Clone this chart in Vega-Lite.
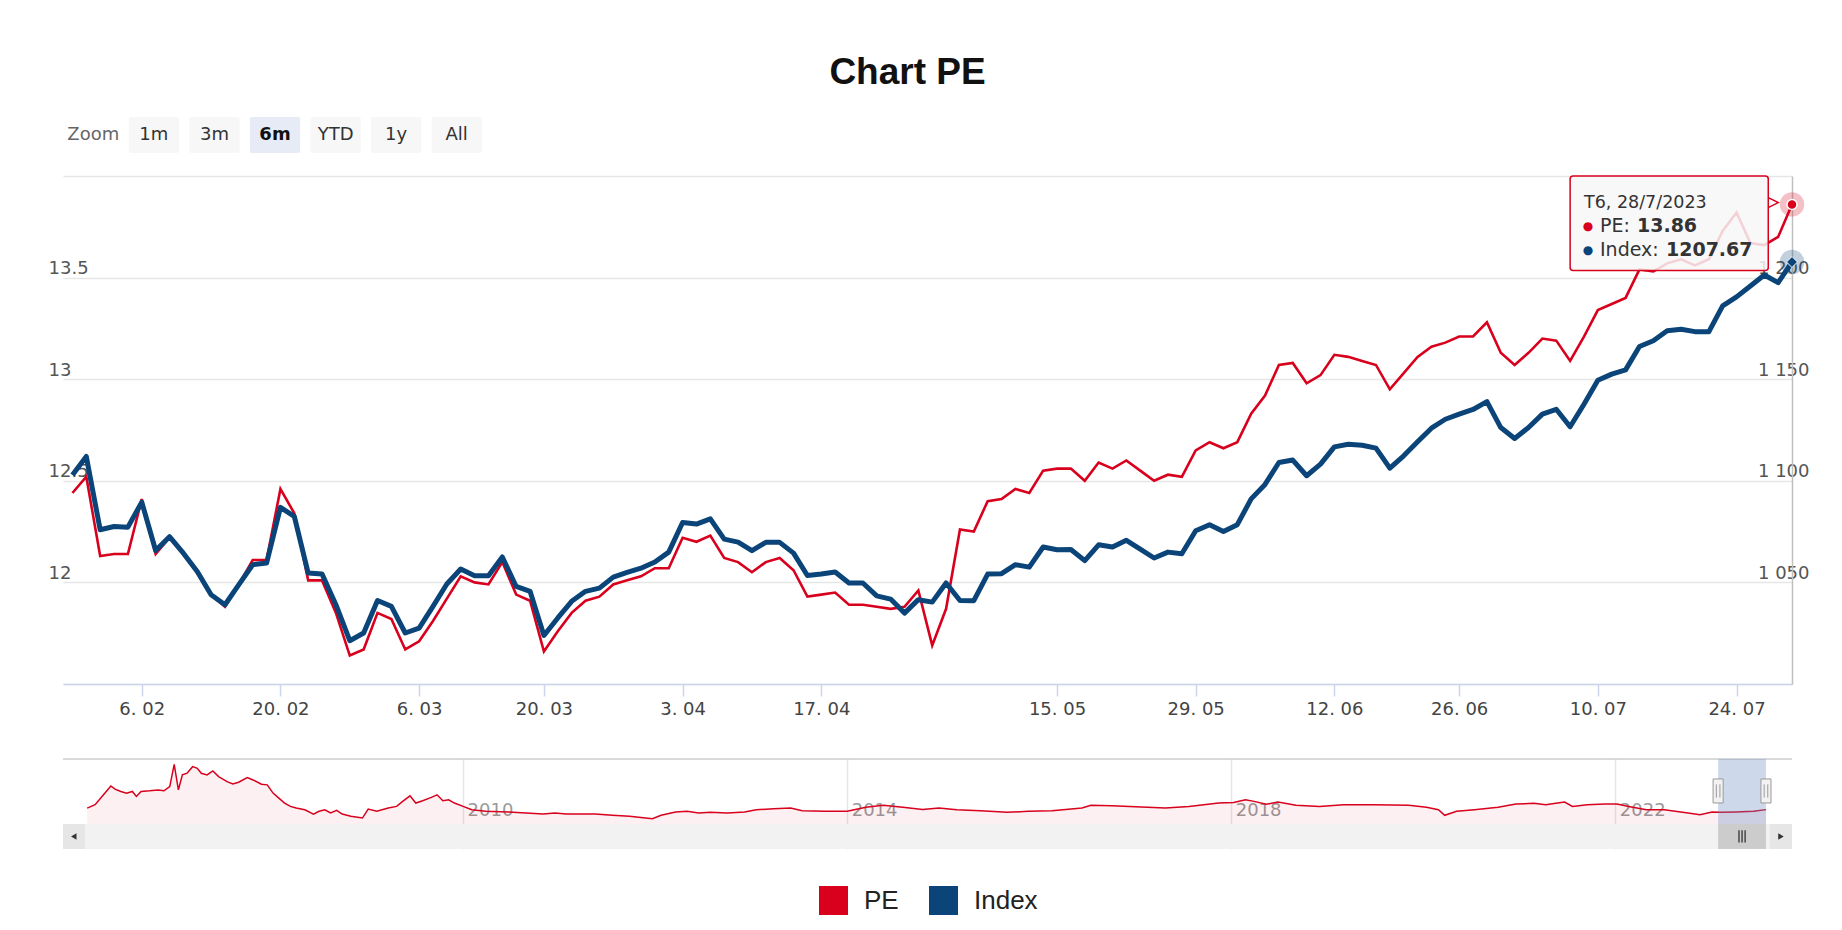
{
  "$schema": "https://vega.github.io/schema/vega-lite/v6.json",
  "padding": {"left": 48, "top": 54, "right": 0, "bottom": 0},
  "autosize": {"type": "pad"},
  "background": "white",
  "title": {"text": "Chart PE", "font": "Liberation Sans", "fontSize": 37, "fontWeight": "bold", "color": "#111111", "anchor": "middle", "baseline": "top", "offset": 25, "dx": -21},
  "config": {"view": {"stroke": null}, "font": "DejaVu Sans", "axis": {"labelFont": "DejaVu Sans"}},
  "spacing": 22,
  "vconcat": [
    {
      "width": 424,
      "height": 36,
      "data": {"values": [{"b": "Zoom"}, {"b": "1m"}, {"b": "3m"}, {"b": "6m"}, {"b": "YTD"}, {"b": "1y"}, {"b": "All"}]},
      "encoding": {"x": {"field": "b", "type": "nominal", "sort": null, "scale": {"domain": ["Zoom", "1m", "3m", "6m", "YTD", "1y", "All"], "paddingInner": 0.17, "paddingOuter": 0.085}, "axis": null}},
      "layer": [
        {"transform": [{"filter": "datum.b !== 'Zoom'"}], "mark": {"type": "rect", "cornerRadius": 2}, "encoding": {"color": {"condition": {"test": "datum.b === '6m'", "value": "#e6ebf5"}, "value": "#f7f7f7"}}},
        {"transform": [{"filter": "datum.b === 'Zoom'"}], "mark": {"type": "text", "fontSize": 18, "color": "#666666"}, "encoding": {"text": {"field": "b"}}},
        {"transform": [{"filter": "datum.b !== 'Zoom' && datum.b !== '6m'"}], "mark": {"type": "text", "fontSize": 18, "color": "#333333"}, "encoding": {"text": {"field": "b"}}},
        {"transform": [{"filter": "datum.b === '6m'"}], "mark": {"type": "text", "fontSize": 18, "color": "#111111", "fontWeight": "bold"}, "encoding": {"text": {"field": "b"}}}
      ]
    },
    {
      "width": 1729,
      "height": 508,
      "data": {"values": [
        {"d": "2023-01-30", "PE": 12.44, "Index": 1102.9},
        {"d": "2023-01-31", "PE": 12.52, "Index": 1112.0},
        {"d": "2023-02-01", "PE": 12.13, "Index": 1075.9},
        {"d": "2023-02-02", "PE": 12.14, "Index": 1077.5},
        {"d": "2023-02-03", "PE": 12.14, "Index": 1077.2},
        {"d": "2023-02-06", "PE": 12.41, "Index": 1089.5},
        {"d": "2023-02-07", "PE": 12.14, "Index": 1065.7},
        {"d": "2023-02-08", "PE": 12.22, "Index": 1072.5},
        {"d": "2023-02-09", "PE": 12.14, "Index": 1064.4},
        {"d": "2023-02-10", "PE": 12.05, "Index": 1055.4},
        {"d": "2023-02-13", "PE": 11.94, "Index": 1043.9},
        {"d": "2023-02-14", "PE": 11.88, "Index": 1039.0},
        {"d": "2023-02-15", "PE": 11.99, "Index": 1048.9},
        {"d": "2023-02-16", "PE": 12.11, "Index": 1058.7},
        {"d": "2023-02-17", "PE": 12.11, "Index": 1059.5},
        {"d": "2023-02-20", "PE": 12.46, "Index": 1086.9},
        {"d": "2023-02-21", "PE": 12.34, "Index": 1082.5},
        {"d": "2023-02-22", "PE": 12.01, "Index": 1054.6},
        {"d": "2023-02-23", "PE": 12.01, "Index": 1054.1},
        {"d": "2023-02-24", "PE": 11.85, "Index": 1039.0},
        {"d": "2023-02-27", "PE": 11.64, "Index": 1021.3},
        {"d": "2023-02-28", "PE": 11.67, "Index": 1025.1},
        {"d": "2023-03-01", "PE": 11.85, "Index": 1041.1},
        {"d": "2023-03-02", "PE": 11.82, "Index": 1038.2},
        {"d": "2023-03-03", "PE": 11.67, "Index": 1025.1},
        {"d": "2023-03-06", "PE": 11.71, "Index": 1027.5},
        {"d": "2023-03-07", "PE": 11.81, "Index": 1038.2},
        {"d": "2023-03-08", "PE": 11.92, "Index": 1049.2},
        {"d": "2023-03-09", "PE": 12.03, "Index": 1056.6},
        {"d": "2023-03-13", "PE": 12.0, "Index": 1053.3},
        {"d": "2023-03-14", "PE": 11.99, "Index": 1053.3},
        {"d": "2023-03-15", "PE": 12.1, "Index": 1062.5},
        {"d": "2023-03-16", "PE": 11.94, "Index": 1048.0},
        {"d": "2023-03-17", "PE": 11.91, "Index": 1045.6},
        {"d": "2023-03-20", "PE": 11.66, "Index": 1023.9},
        {"d": "2023-03-21", "PE": 11.76, "Index": 1032.5},
        {"d": "2023-03-22", "PE": 11.85, "Index": 1040.7},
        {"d": "2023-03-23", "PE": 11.91, "Index": 1045.6},
        {"d": "2023-03-24", "PE": 11.93, "Index": 1047.2},
        {"d": "2023-03-27", "PE": 11.99, "Index": 1052.6},
        {"d": "2023-03-28", "PE": 12.01, "Index": 1054.9},
        {"d": "2023-03-29", "PE": 12.03, "Index": 1057.0},
        {"d": "2023-03-30", "PE": 12.07, "Index": 1060.0},
        {"d": "2023-03-31", "PE": 12.07, "Index": 1064.9},
        {"d": "2023-04-03", "PE": 12.22, "Index": 1079.5},
        {"d": "2023-04-04", "PE": 12.2, "Index": 1078.7},
        {"d": "2023-04-05", "PE": 12.23, "Index": 1081.3},
        {"d": "2023-04-06", "PE": 12.12, "Index": 1071.3},
        {"d": "2023-04-07", "PE": 12.1, "Index": 1069.8},
        {"d": "2023-04-10", "PE": 12.05, "Index": 1065.6},
        {"d": "2023-04-11", "PE": 12.1, "Index": 1069.7},
        {"d": "2023-04-12", "PE": 12.12, "Index": 1069.7},
        {"d": "2023-04-13", "PE": 12.06, "Index": 1064.4},
        {"d": "2023-04-14", "PE": 11.93, "Index": 1053.4},
        {"d": "2023-04-17", "PE": 11.94, "Index": 1054.1},
        {"d": "2023-04-18", "PE": 11.95, "Index": 1055.1},
        {"d": "2023-04-19", "PE": 11.89, "Index": 1049.7},
        {"d": "2023-04-20", "PE": 11.89, "Index": 1049.7},
        {"d": "2023-04-21", "PE": 11.88, "Index": 1043.4},
        {"d": "2023-04-24", "PE": 11.87, "Index": 1041.8},
        {"d": "2023-04-25", "PE": 11.88, "Index": 1034.9},
        {"d": "2023-04-26", "PE": 11.96, "Index": 1041.5},
        {"d": "2023-04-27", "PE": 11.69, "Index": 1040.3},
        {"d": "2023-04-28", "PE": 11.87, "Index": 1049.7},
        {"d": "2023-05-04", "PE": 12.26, "Index": 1041.1},
        {"d": "2023-05-05", "PE": 12.25, "Index": 1041.0},
        {"d": "2023-05-08", "PE": 12.4, "Index": 1054.1},
        {"d": "2023-05-09", "PE": 12.41, "Index": 1054.3},
        {"d": "2023-05-10", "PE": 12.46, "Index": 1058.7},
        {"d": "2023-05-11", "PE": 12.44, "Index": 1057.5},
        {"d": "2023-05-12", "PE": 12.55, "Index": 1067.4},
        {"d": "2023-05-15", "PE": 12.56, "Index": 1066.1},
        {"d": "2023-05-16", "PE": 12.56, "Index": 1066.2},
        {"d": "2023-05-17", "PE": 12.5, "Index": 1060.7},
        {"d": "2023-05-18", "PE": 12.59, "Index": 1068.5},
        {"d": "2023-05-19", "PE": 12.56, "Index": 1067.4},
        {"d": "2023-05-22", "PE": 12.6, "Index": 1070.7},
        {"d": "2023-05-23", "PE": 12.55, "Index": 1066.4},
        {"d": "2023-05-24", "PE": 12.5, "Index": 1062.0},
        {"d": "2023-05-25", "PE": 12.53, "Index": 1064.9},
        {"d": "2023-05-26", "PE": 12.52, "Index": 1064.1},
        {"d": "2023-05-29", "PE": 12.65, "Index": 1075.4},
        {"d": "2023-05-30", "PE": 12.69, "Index": 1078.4},
        {"d": "2023-05-31", "PE": 12.66, "Index": 1075.1},
        {"d": "2023-06-01", "PE": 12.69, "Index": 1078.4},
        {"d": "2023-06-02", "PE": 12.83, "Index": 1091.1},
        {"d": "2023-06-05", "PE": 12.92, "Index": 1098.2},
        {"d": "2023-06-06", "PE": 13.07, "Index": 1109.0},
        {"d": "2023-06-07", "PE": 13.08, "Index": 1110.2},
        {"d": "2023-06-08", "PE": 12.98, "Index": 1102.5},
        {"d": "2023-06-09", "PE": 13.02, "Index": 1108.2},
        {"d": "2023-06-12", "PE": 13.12, "Index": 1116.7},
        {"d": "2023-06-13", "PE": 13.11, "Index": 1118.0},
        {"d": "2023-06-14", "PE": 13.09, "Index": 1117.5},
        {"d": "2023-06-15", "PE": 13.07, "Index": 1116.1},
        {"d": "2023-06-19", "PE": 12.95, "Index": 1106.2},
        {"d": "2023-06-20", "PE": 13.03, "Index": 1112.3},
        {"d": "2023-06-21", "PE": 13.11, "Index": 1119.2},
        {"d": "2023-06-22", "PE": 13.16, "Index": 1125.9},
        {"d": "2023-06-23", "PE": 13.18, "Index": 1130.3},
        {"d": "2023-06-26", "PE": 13.21, "Index": 1132.8},
        {"d": "2023-06-27", "PE": 13.21, "Index": 1135.1},
        {"d": "2023-06-28", "PE": 13.28, "Index": 1139.0},
        {"d": "2023-06-29", "PE": 13.13, "Index": 1126.2},
        {"d": "2023-06-30", "PE": 13.07, "Index": 1120.8},
        {"d": "2023-07-03", "PE": 13.13, "Index": 1126.2},
        {"d": "2023-07-04", "PE": 13.2, "Index": 1132.8},
        {"d": "2023-07-05", "PE": 13.19, "Index": 1135.2},
        {"d": "2023-07-06", "PE": 13.09, "Index": 1126.6},
        {"d": "2023-07-07", "PE": 13.21, "Index": 1137.7},
        {"d": "2023-07-10", "PE": 13.34, "Index": 1149.5},
        {"d": "2023-07-11", "PE": 13.37, "Index": 1152.5},
        {"d": "2023-07-12", "PE": 13.4, "Index": 1154.6},
        {"d": "2023-07-13", "PE": 13.54, "Index": 1166.1},
        {"d": "2023-07-14", "PE": 13.53, "Index": 1168.9},
        {"d": "2023-07-17", "PE": 13.57, "Index": 1173.8},
        {"d": "2023-07-18", "PE": 13.59, "Index": 1174.6},
        {"d": "2023-07-19", "PE": 13.56, "Index": 1173.4},
        {"d": "2023-07-20", "PE": 13.59, "Index": 1173.3},
        {"d": "2023-07-21", "PE": 13.73, "Index": 1186.1},
        {"d": "2023-07-24", "PE": 13.82, "Index": 1190.5},
        {"d": "2023-07-25", "PE": 13.67, "Index": 1195.9},
        {"d": "2023-07-26", "PE": 13.66, "Index": 1201.3},
        {"d": "2023-07-27", "PE": 13.7, "Index": 1197.5},
        {"d": "2023-07-28", "PE": 13.86, "Index": 1207.67}
      ]},
      "encoding": {
        "x": {
          "field": "d", "type": "ordinal",
          "scale": {"type": "point", "padding": 0.34, "align": 1},
          "axis": {
            "values": ["2023-02-06", "2023-02-20", "2023-03-06", "2023-03-20", "2023-04-03", "2023-04-17", "2023-05-15", "2023-05-29", "2023-06-12", "2023-06-26", "2023-07-10", "2023-07-24"],
            "labelExpr": "toNumber(substring(datum.value, 8, 10)) + '. ' + substring(datum.value, 5, 7)",
            "labelAngle": 0, "labelFontSize": 18, "labelColor": "#444444", "labelPadding": 4,
            "tickSize": 12, "tickColor": "#ccd6eb", "tickWidth": 1.5,
            "domainColor": "#ccd6eb", "domainWidth": 1.5, "grid": false,
            "title": " ", "titleFontSize": 14, "titlePadding": 4
          }
        }
      },
      "layer": [
        {
          "layer": [
            {
              "mark": {"type": "line", "color": "#d8001d", "strokeWidth": 2.6},
              "encoding": {
                "y": {
                  "field": "PE", "type": "quantitative",
                  "scale": {"domain": [11.5, 14], "nice": false, "zero": false},
                  "axis": {
                    "orient": "left", "values": [11.5, 12, 12.5, 13, 13.5, 14],
                    "labelExpr": "datum.value == 14 || datum.value == 11.5 ? '' : '' + datum.value",
                    "grid": true, "gridColor": "#e6e6e6", "gridWidth": 1.5,
                    "domain": false, "ticks": false, "tickSize": 0,
                    "labelAlign": "left", "labelPadding": 15, "labelBaseline": "alphabetic", "labelOffset": -4,
                    "labelFontSize": 18, "labelColor": "#555555", "title": null
                  }
                }
              }
            }
          ]
        },
        {
          "layer": [
            {
              "mark": {"type": "line", "color": "#0a4478", "strokeWidth": 5, "strokeJoin": "round"},
              "encoding": {
                "y": {
                  "field": "Index", "type": "quantitative",
                  "scale": {"domain": [1000, 1250], "nice": false, "zero": false},
                  "axis": {
                    "orient": "right", "values": [1050, 1100, 1150, 1200],
                    "labelExpr": "replace(format(datum.value, ','), ',', ' ')",
                    "grid": false, "domain": true, "domainColor": "#c0c0c0", "domainWidth": 1.5,
                    "ticks": false, "tickSize": 0,
                    "labelAlign": "right", "labelPadding": 17, "labelBaseline": "alphabetic", "labelOffset": -4,
                    "labelFontSize": 18, "labelColor": "#555555", "title": null
                  }
                }
              }
            },
            {
              "transform": [{"filter": "datum.d === '2023-07-28'"}],
              "mark": {"type": "point", "shape": "circle", "filled": true, "color": "#0a4478", "opacity": 0.25, "size": 600},
              "encoding": {"y": {"field": "Index", "type": "quantitative"}}
            },
            {
              "transform": [{"filter": "datum.d === '2023-07-28'"}],
              "mark": {"type": "point", "shape": "diamond", "filled": true, "fill": "#0a4478", "stroke": "#ffffff", "strokeWidth": 1, "size": 120, "opacity": 1},
              "encoding": {"y": {"field": "Index", "type": "quantitative"}}
            }
          ]
        },
        {
          "layer": [
            {
              "data": {"values": [{}]},
              "mark": {"type": "rect", "fill": "#f7f7f7", "fillOpacity": 0.85, "stroke": "#d8001d", "strokeWidth": 1.5, "cornerRadius": 3, "x2Offset": 4},
              "encoding": {
                "x": {"datum": "2023-07-06", "type": "ordinal"},
                "x2": {"datum": "2023-07-26"},
                "y": {"datum": 14.0, "type": "quantitative", "scale": {"domain": [11.5, 14], "nice": false, "zero": false}, "axis": null},
                "y2": {"datum": 13.535}
              }
            },
            {
              "data": {"values": [{}]},
              "mark": {"type": "point", "shape": "M-1,-1L1,0L-1,1", "filled": false, "stroke": "#d8001d", "strokeWidth": 1.5, "size": 100, "xOffset": 9, "opacity": 1},
              "encoding": {
                "x": {"datum": "2023-07-26", "type": "ordinal"},
                "y": {"datum": 13.869, "type": "quantitative", "axis": null}
              }
            },
            {
              "data": {"values": [{}]},
              "mark": {"type": "text", "text": "T6, 28/7/2023", "align": "left", "baseline": "middle", "fontSize": 17.5, "color": "#333333"},
              "encoding": {
                "x": {"datum": "2023-07-07", "type": "ordinal"},
                "y": {"datum": 13.869, "type": "quantitative", "axis": null}
              }
            },
            {
              "data": {"values": [{}]},
              "mark": {"type": "text", "text": "●", "align": "center", "baseline": "middle", "fontSize": 12, "color": "#d8001d", "dx": 4},
              "encoding": {
                "x": {"datum": "2023-07-07", "type": "ordinal"},
                "y": {"datum": 13.756, "type": "quantitative", "axis": null}
              }
            },
            {
              "data": {"values": [{}]},
              "mark": {"type": "text", "text": "PE:", "align": "left", "baseline": "middle", "fontSize": 19, "color": "#333333", "dx": 16},
              "encoding": {
                "x": {"datum": "2023-07-07", "type": "ordinal"},
                "y": {"datum": 13.756, "type": "quantitative", "axis": null}
              }
            },
            {
              "data": {"values": [{}]},
              "mark": {"type": "text", "text": "13.86", "align": "left", "baseline": "middle", "fontSize": 19, "fontWeight": "bold", "color": "#333333", "dx": 53},
              "encoding": {
                "x": {"datum": "2023-07-07", "type": "ordinal"},
                "y": {"datum": 13.756, "type": "quantitative", "axis": null}
              }
            },
            {
              "data": {"values": [{}]},
              "mark": {"type": "text", "text": "●", "align": "center", "baseline": "middle", "fontSize": 12, "color": "#0a4478", "dx": 4},
              "encoding": {
                "x": {"datum": "2023-07-07", "type": "ordinal"},
                "y": {"datum": 13.638, "type": "quantitative", "axis": null}
              }
            },
            {
              "data": {"values": [{}]},
              "mark": {"type": "text", "text": "Index:", "align": "left", "baseline": "middle", "fontSize": 19, "color": "#333333", "dx": 16},
              "encoding": {
                "x": {"datum": "2023-07-07", "type": "ordinal"},
                "y": {"datum": 13.638, "type": "quantitative", "axis": null}
              }
            },
            {
              "data": {"values": [{}]},
              "mark": {"type": "text", "text": "1207.67", "align": "left", "baseline": "middle", "fontSize": 19, "fontWeight": "bold", "color": "#333333", "dx": 82},
              "encoding": {
                "x": {"datum": "2023-07-07", "type": "ordinal"},
                "y": {"datum": 13.638, "type": "quantitative", "axis": null}
              }
            },
            {
              "transform": [{"filter": "datum.d === '2023-07-28'"}],
              "mark": {"type": "point", "shape": "circle", "filled": true, "color": "#d8001d", "opacity": 0.25, "size": 600},
              "encoding": {"y": {"field": "PE", "type": "quantitative", "axis": null}}
            },
            {
              "transform": [{"filter": "datum.d === '2023-07-28'"}],
              "mark": {"type": "point", "shape": "circle", "filled": true, "fill": "#d8001d", "stroke": "#ffffff", "strokeWidth": 1.5, "size": 100, "opacity": 1},
              "encoding": {"y": {"field": "PE", "type": "quantitative", "axis": null}}
            }
          ]
        }
      ],
      "resolve": {"scale": {"y": "independent"}}
    },
    {
      "width": 1729,
      "height": 90,
      "layer": [
        {
          "data": {"values": [
            {"t": "2006-02-01", "pe": 14.9}, {"t": "2006-03-03", "pe": 17.1}, {"t": "2006-04-04", "pe": 23.6}, {"t": "2006-05-02", "pe": 29.4},
            {"t": "2006-05-18", "pe": 27.3}, {"t": "2006-06-09", "pe": 25.8}, {"t": "2006-07-01", "pe": 24.7}, {"t": "2006-07-23", "pe": 25.8},
            {"t": "2006-08-07", "pe": 22.5}, {"t": "2006-08-25", "pe": 25.8}, {"t": "2006-09-26", "pe": 26.2}, {"t": "2006-10-29", "pe": 26.8},
            {"t": "2006-11-20", "pe": 26.2}, {"t": "2006-12-12", "pe": 29.0}, {"t": "2006-12-29", "pe": 43.5}, {"t": "2007-01-14", "pe": 26.8},
            {"t": "2007-01-29", "pe": 36.6}, {"t": "2007-02-16", "pe": 37.7}, {"t": "2007-03-09", "pe": 42.0}, {"t": "2007-03-27", "pe": 40.9},
            {"t": "2007-04-11", "pe": 37.7}, {"t": "2007-05-03", "pe": 36.6}, {"t": "2007-05-25", "pe": 39.2}, {"t": "2007-06-16", "pe": 35.5},
            {"t": "2007-07-18", "pe": 32.2}, {"t": "2007-08-09", "pe": 30.7}, {"t": "2007-08-31", "pe": 31.8}, {"t": "2007-10-03", "pe": 34.8},
            {"t": "2007-10-25", "pe": 33.3}, {"t": "2007-11-26", "pe": 30.5}, {"t": "2007-12-18", "pe": 30.1}, {"t": "2008-01-09", "pe": 24.7},
            {"t": "2008-01-31", "pe": 21.4}, {"t": "2008-02-22", "pe": 18.2}, {"t": "2008-03-15", "pe": 16.0}, {"t": "2008-04-06", "pe": 14.9},
            {"t": "2008-05-09", "pe": 13.8}, {"t": "2008-06-11", "pe": 11.0}, {"t": "2008-07-02", "pe": 12.8}, {"t": "2008-07-24", "pe": 13.8},
            {"t": "2008-08-15", "pe": 11.7}, {"t": "2008-09-07", "pe": 13.4}, {"t": "2008-09-28", "pe": 11.0}, {"t": "2008-10-31", "pe": 9.5},
            {"t": "2008-12-14", "pe": 8.4}, {"t": "2009-01-05", "pe": 14.3}, {"t": "2009-02-07", "pe": 12.8}, {"t": "2009-03-22", "pe": 14.9},
            {"t": "2009-04-23", "pe": 16.0}, {"t": "2009-05-16", "pe": 19.3}, {"t": "2009-06-13", "pe": 22.9}, {"t": "2009-07-05", "pe": 18.2},
            {"t": "2009-07-31", "pe": 19.7}, {"t": "2009-09-02", "pe": 21.9}, {"t": "2009-09-24", "pe": 23.6}, {"t": "2009-10-16", "pe": 19.7},
            {"t": "2009-11-07", "pe": 20.3}, {"t": "2009-11-29", "pe": 18.2}, {"t": "2010-01-01", "pe": 16.0}, {"t": "2010-02-03", "pe": 13.8},
            {"t": "2010-03-29", "pe": 12.8}, {"t": "2010-06-24", "pe": 12.3}, {"t": "2010-08-28", "pe": 11.7}, {"t": "2010-11-02", "pe": 11.0},
            {"t": "2010-12-16", "pe": 11.7}, {"t": "2011-01-29", "pe": 11.0}, {"t": "2011-05-18", "pe": 11.0}, {"t": "2011-07-23", "pe": 10.2},
            {"t": "2011-09-26", "pe": 9.5}, {"t": "2011-12-22", "pe": 8.0}, {"t": "2012-01-24", "pe": 10.2}, {"t": "2012-03-19", "pe": 12.3},
            {"t": "2012-05-02", "pe": 12.8}, {"t": "2012-06-15", "pe": 11.7}, {"t": "2012-07-29", "pe": 12.1}, {"t": "2012-10-02", "pe": 11.7},
            {"t": "2012-12-07", "pe": 12.3}, {"t": "2013-01-20", "pe": 13.8}, {"t": "2013-03-27", "pe": 14.5}, {"t": "2013-05-31", "pe": 14.9},
            {"t": "2013-07-14", "pe": 13.2}, {"t": "2013-10-09", "pe": 12.8}, {"t": "2014-01-01", "pe": 12.8}, {"t": "2014-03-13", "pe": 15.4},
            {"t": "2014-05-18", "pe": 16.7}, {"t": "2014-08-01", "pe": 15.4}, {"t": "2014-10-15", "pe": 14.0}, {"t": "2014-12-16", "pe": 14.9},
            {"t": "2015-02-22", "pe": 13.8}, {"t": "2015-05-23", "pe": 13.2}, {"t": "2015-09-02", "pe": 12.1}, {"t": "2015-11-20", "pe": 12.8},
            {"t": "2016-02-19", "pe": 13.2}, {"t": "2016-06-12", "pe": 14.9}, {"t": "2016-07-16", "pe": 16.7}, {"t": "2016-10-03", "pe": 16.4},
            {"t": "2017-01-25", "pe": 15.6}, {"t": "2017-04-25", "pe": 14.9}, {"t": "2017-07-24", "pe": 16.0}, {"t": "2017-11-14", "pe": 18.2},
            {"t": "2018-01-10", "pe": 18.6}, {"t": "2018-02-24", "pe": 20.3}, {"t": "2018-03-29", "pe": 19.3}, {"t": "2018-05-14", "pe": 17.5},
            {"t": "2018-06-28", "pe": 18.8}, {"t": "2018-09-04", "pe": 16.7}, {"t": "2018-12-03", "pe": 16.0}, {"t": "2019-03-04", "pe": 17.1},
            {"t": "2019-06-25", "pe": 17.1}, {"t": "2019-11-07", "pe": 16.7}, {"t": "2020-01-14", "pe": 15.4}, {"t": "2020-02-28", "pe": 13.8},
            {"t": "2020-03-23", "pe": 10.2}, {"t": "2020-05-07", "pe": 12.8}, {"t": "2020-07-14", "pe": 13.8}, {"t": "2020-10-12", "pe": 15.4},
            {"t": "2020-12-19", "pe": 17.5}, {"t": "2021-02-25", "pe": 18.0}, {"t": "2021-04-11", "pe": 17.1}, {"t": "2021-05-26", "pe": 18.2},
            {"t": "2021-06-22", "pe": 18.8}, {"t": "2021-07-22", "pe": 16.0}, {"t": "2021-09-16", "pe": 17.1}, {"t": "2021-11-22", "pe": 17.5},
            {"t": "2022-01-07", "pe": 17.5}, {"t": "2022-02-21", "pe": 16.0}, {"t": "2022-04-29", "pe": 13.8}, {"t": "2022-07-06", "pe": 13.8},
            {"t": "2022-10-05", "pe": 11.7}, {"t": "2022-11-19", "pe": 10.6}, {"t": "2023-01-04", "pe": 12.3}, {"t": "2023-02-07", "pe": 12.1},
            {"t": "2023-04-04", "pe": 12.3}, {"t": "2023-06-11", "pe": 12.8}, {"t": "2023-07-28", "pe": 13.9}
          ]},
          "layer": [
            {
              "mark": {"type": "area", "color": "#d8001d", "opacity": 0.06},
              "encoding": {
                "x": {
                  "field": "t", "type": "temporal",
                  "scale": {"domain": [{"year": 2005, "month": 11, "date": 1}, {"year": 2023, "month": 11, "date": 4}]},
                  "axis": {
                    "values": [{"year": 2010, "month": 1, "date": 1}, {"year": 2014, "month": 1, "date": 1}, {"year": 2018, "month": 1, "date": 1}, {"year": 2022, "month": 1, "date": 1}],
                    "format": "%Y", "grid": true, "gridColor": "#e6e6e6", "gridWidth": 1.5,
                    "domain": false, "ticks": false, "tickSize": 0,
                    "labelAlign": "left", "labelBaseline": "middle", "labelPadding": -39, "labelOffset": 4,
                    "labelFontSize": 18, "labelColor": "#9a9a9a", "labelFlush": false, "title": null
                  }
                },
                "y": {"field": "pe", "type": "quantitative", "scale": {"domain": [-11.85, 47], "nice": false, "zero": false}, "axis": null},
                "y2": {"datum": 4.5}
              }
            },
            {
              "mark": {"type": "line", "color": "#d8001d", "strokeWidth": 1.5},
              "encoding": {
                "x": {"field": "t", "type": "temporal"},
                "y": {"field": "pe", "type": "quantitative", "axis": null}
              }
            }
          ]
        },
        {
          "data": {"values": [{}]},
          "mark": {"type": "rule", "color": "#cccccc", "strokeWidth": 1.5},
          "encoding": {"y": {"datum": 47}}
        },
        {
          "data": {"values": [{}]},
          "mark": {"type": "rect", "color": "#6685c2", "opacity": 0.32},
          "encoding": {
            "x": {"datum": {"year": 2023, "month": 1, "date": 27}},
            "x2": {"datum": {"year": 2023, "month": 7, "date": 28}},
            "y": {"datum": 47},
            "y2": {"datum": 4.5}
          }
        },
        {
          "data": {"values": [{}]},
          "mark": {"type": "rect", "color": "#f2f2f2", "opacity": 1},
          "encoding": {
            "x": {"datum": {"year": 2005, "month": 11, "date": 1}},
            "x2": {"datum": {"year": 2023, "month": 11, "date": 4}},
            "y": {"datum": 4.5},
            "y2": {"datum": -11.85}
          }
        },
        {
          "data": {"values": [{}]},
          "mark": {"type": "rect", "color": "#e6e6e6", "opacity": 1},
          "encoding": {
            "x": {"datum": {"year": 2005, "month": 11, "date": 1}},
            "x2": {"datum": {"year": 2006, "month": 1, "date": 24}},
            "y": {"datum": 4.5},
            "y2": {"datum": -11.85}
          }
        },
        {
          "data": {"values": [{}]},
          "mark": {"type": "rect", "color": "#e6e6e6", "opacity": 1},
          "encoding": {
            "x": {"datum": {"year": 2023, "month": 8, "date": 12}},
            "x2": {"datum": {"year": 2023, "month": 11, "date": 4}},
            "y": {"datum": 4.5},
            "y2": {"datum": -11.85}
          }
        },
        {
          "data": {"values": [{}]},
          "mark": {"type": "rect", "color": "#cccccc", "opacity": 1},
          "encoding": {
            "x": {"datum": {"year": 2023, "month": 1, "date": 27}},
            "x2": {"datum": {"year": 2023, "month": 7, "date": 28}},
            "y": {"datum": 4.5},
            "y2": {"datum": -11.85}
          }
        },
        {
          "data": {"values": [{}]},
          "mark": {"type": "point", "shape": "M-0.5,-1L-0.5,1M0,-1L0,1M0.5,-1L0.5,1", "filled": false, "stroke": "#333333", "strokeWidth": 1.3, "size": 150, "opacity": 1},
          "encoding": {
            "x": {"datum": {"year": 2023, "month": 4, "date": 28}},
            "y": {"datum": -3.67}
          }
        },
        {
          "data": {"values": [{}]},
          "mark": {"type": "point", "shape": "triangle-left", "filled": true, "color": "#333333", "size": 40, "opacity": 1},
          "encoding": {
            "x": {"datum": {"year": 2005, "month": 12, "date": 12}},
            "y": {"datum": -3.67}
          }
        },
        {
          "data": {"values": [{}]},
          "mark": {"type": "point", "shape": "triangle-right", "filled": true, "color": "#333333", "size": 40, "opacity": 1},
          "encoding": {
            "x": {"datum": {"year": 2023, "month": 9, "date": 23}},
            "y": {"datum": -3.67}
          }
        },
        {
          "data": {"values": [{}]},
          "mark": {"type": "point", "shape": "M-0.42,-1L0.42,-1L0.42,1L-0.42,1Z", "filled": true, "fill": "#f2f2f2", "stroke": "#999999", "strokeWidth": 1, "size": 576, "opacity": 1},
          "encoding": {
            "x": {"datum": {"year": 2023, "month": 1, "date": 27}},
            "y": {"datum": 26.1}
          }
        },
        {
          "data": {"values": [{}]},
          "mark": {"type": "point", "shape": "M-0.42,-1L0.42,-1L0.42,1L-0.42,1Z", "filled": true, "fill": "#f2f2f2", "stroke": "#999999", "strokeWidth": 1, "size": 576, "opacity": 1},
          "encoding": {
            "x": {"datum": {"year": 2023, "month": 7, "date": 28}},
            "y": {"datum": 26.1}
          }
        },
        {
          "data": {"values": [{}]},
          "mark": {"type": "point", "shape": "M-0.15,-0.55L-0.15,0.55M0.15,-0.55L0.15,0.55", "filled": false, "stroke": "#999999", "strokeWidth": 1, "size": 576, "opacity": 1},
          "encoding": {
            "x": {"datum": {"year": 2023, "month": 1, "date": 27}},
            "y": {"datum": 26.1}
          }
        },
        {
          "data": {"values": [{}]},
          "mark": {"type": "point", "shape": "M-0.15,-0.55L-0.15,0.55M0.15,-0.55L0.15,0.55", "filled": false, "stroke": "#999999", "strokeWidth": 1, "size": 576, "opacity": 1},
          "encoding": {
            "x": {"datum": {"year": 2023, "month": 7, "date": 28}},
            "y": {"datum": 26.1}
          }
        },
        {
          "data": {"values": [{"s": "PE"}, {"s": "Index"}]},
          "mark": {"type": "square", "opacity": 0, "filled": true},
          "encoding": {
            "color": {
              "field": "s", "type": "nominal",
              "scale": {"domain": ["PE", "Index"], "range": ["#d8001d", "#0a4478"]},
              "legend": {
                "orient": "none", "legendX": 756, "legendY": 769, "direction": "horizontal", "title": null,
                "symbolType": "square", "symbolSize": 841, "symbolOpacity": 1, "symbolStrokeWidth": 0,
                "labelFontSize": 26, "labelFont": "Liberation Sans", "labelColor": "#222222",
                "labelOffset": 16, "columnPadding": 30, "padding": 0
              }
            }
          }
        }
      ]
    }
  ]
}
